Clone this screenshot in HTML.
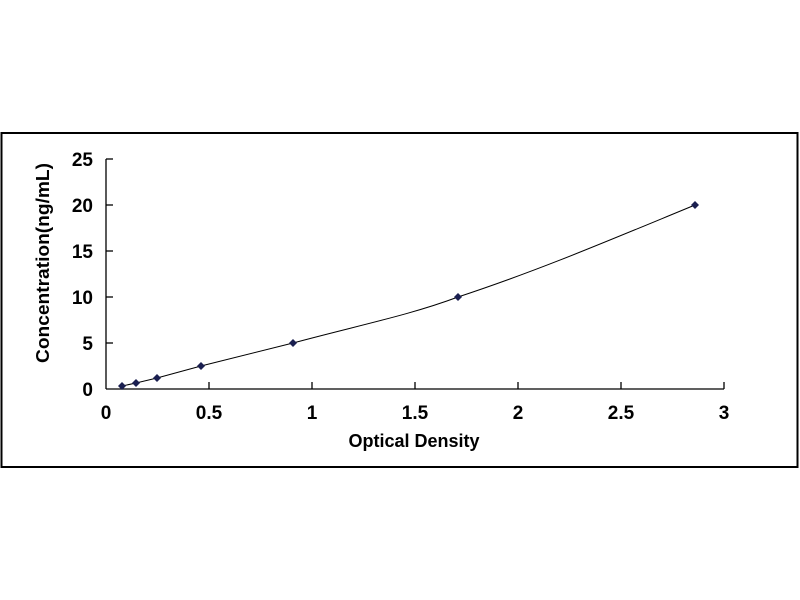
<!DOCTYPE html>
<html><head><meta charset="utf-8"><style>body{margin:0;background:#fff}svg{display:block}</style></head><body>
<svg width="800" height="600" xmlns="http://www.w3.org/2000/svg" font-family="Liberation Sans, Arial, sans-serif" font-weight="bold">
<rect x="1.5" y="133" width="796" height="334" fill="none" stroke="#000" stroke-width="2"/>
<g stroke="#000" stroke-width="1.3">
<line x1="106" y1="159" x2="106" y2="389"/>
<line x1="106" y1="389" x2="724" y2="389"/>
<line x1="106" y1="159" x2="113" y2="159"/>
<line x1="106" y1="205" x2="113" y2="205"/>
<line x1="106" y1="251" x2="113" y2="251"/>
<line x1="106" y1="297" x2="113" y2="297"/>
<line x1="106" y1="343" x2="113" y2="343"/>
<line x1="209" y1="389" x2="209" y2="382"/>
<line x1="312" y1="389" x2="312" y2="382"/>
<line x1="415" y1="389" x2="415" y2="382"/>
<line x1="518" y1="389" x2="518" y2="382"/>
<line x1="621" y1="389" x2="621" y2="382"/>
<line x1="724" y1="389" x2="724" y2="382"/>
</g>
<g font-size="19" text-anchor="end">
<text x="93" y="166">25</text><text x="93" y="212">20</text><text x="93" y="258">15</text><text x="93" y="304">10</text><text x="93" y="350">5</text><text x="93" y="396">0</text>
</g>
<g font-size="19" text-anchor="middle">
<text x="106" y="419">0</text><text x="209" y="419">0.5</text><text x="312" y="419">1</text><text x="415" y="419">1.5</text><text x="518" y="419">2</text><text x="621" y="419">2.5</text><text x="724" y="419">3</text>
</g>
<text x="414" y="447" font-size="18" text-anchor="middle">Optical Density</text>
<text transform="translate(49,263) rotate(-90)" font-size="18" text-anchor="middle" textLength="200" lengthAdjust="spacingAndGlyphs">Concentration(ng/mL)</text>
<path d="M122,386 L136,383 L157,378 L201,366 L293,343 C360,325 410,315 458,297 C540,270 610,240 695,205" fill="none" stroke="#000" stroke-width="1"/>
<g fill="#1a1f50">
<path d="M122,382 l4,4 -4,4 -4,-4z"/>
<path d="M136,379 l4,4 -4,4 -4,-4z"/>
<path d="M157,374 l4,4 -4,4 -4,-4z"/>
<path d="M201,362 l4,4 -4,4 -4,-4z"/>
<path d="M293,339 l4,4 -4,4 -4,-4z"/>
<path d="M458,293 l4,4 -4,4 -4,-4z"/>
<path d="M695,201 l4,4 -4,4 -4,-4z"/>
</g>
</svg>
</body></html>
